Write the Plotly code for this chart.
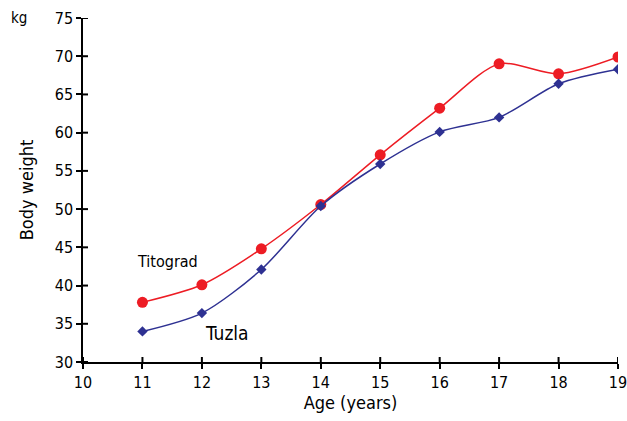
import plotly.graph_objects as go

ages = [11, 12, 13, 14, 15, 16, 17, 18, 19]
titograd = [37.8, 40.1, 44.8, 50.6, 57.1, 63.2, 69.0, 67.7, 69.9]
tuzla = [34.0, 36.4, 42.1, 50.4, 55.9, 60.1, 62.0, 66.4, 68.3]

x_ticks = list(range(10, 20))
y_ticks = list(range(30, 76, 5))

RED = "#ed1c24"
BLUE = "#2e3192"
FONT = "DejaVu Sans Condensed"

W, H = 627, 421
M = dict(l=83, r=9, t=18, b=59)
PLOT_W = W - M["l"] - M["r"]
PLOT_H = H - M["t"] - M["b"]
TICK = 5

fig = go.Figure()
fig.add_trace(go.Scatter(
    x=ages, y=titograd, mode="lines+markers", name="Titograd",
    line=dict(color=RED, width=1.5, shape="spline", smoothing=0.8),
    marker=dict(symbol="circle", size=11, color=RED),
))
fig.add_trace(go.Scatter(
    x=ages, y=tuzla, mode="lines+markers", name="Tuzla",
    line=dict(color=BLUE, width=1.5, shape="spline", smoothing=0.8),
    marker=dict(symbol="diamond", size=8, color=BLUE),
))

axis_common = dict(showgrid=False, zeroline=False, showline=True, linecolor="black",
                   linewidth=1.5, ticks="outside", tickcolor="black", tickwidth=1.5,
                   ticklen=TICK, automargin=False, ticklabeloverflow="allow")

fig.update_layout(
    width=W, height=H,
    margin=M,
    paper_bgcolor="white", plot_bgcolor="white",
    showlegend=False,
    font=dict(family=FONT, color="black", size=15),
    xaxis=dict(range=[10, 19], tickvals=x_ticks,
               title=dict(text="Age (years)", font=dict(size=18), standoff=5),
               tickfont=dict(size=16), **axis_common),
    yaxis=dict(range=[30, 75], tickvals=y_ticks,
               title=dict(text="Body weight", font=dict(size=18), standoff=16),
               tickfont=dict(size=16), **axis_common),
)

# tick marks continue across the axis line into the plot area
tick_line = dict(color="black", width=2)
shapes = []
for xv in x_ticks:
    shapes.append(dict(type="line", xref="x", yref="paper", x0=xv, x1=xv,
                       y0=0, y1=TICK / PLOT_H, line=tick_line, layer="above"))
for yv in y_ticks:
    shapes.append(dict(type="line", xref="paper", yref="y", y0=yv, y1=yv,
                       x0=0, x1=TICK / PLOT_W, line=tick_line, layer="above"))
fig.update_layout(shapes=shapes)

fig.add_annotation(x=11.42, y=43.2, text="Titograd", showarrow=False,
                   font=dict(size=16, family=FONT))
fig.add_annotation(x=12.42, y=33.8, text="Tuzla", showarrow=False,
                   font=dict(size=19, family=FONT))
fig.add_annotation(x=0, xref="paper", xshift=-74, xanchor="left",
                   y=75, yref="y", text="kg", showarrow=False,
                   font=dict(size=15, family=FONT))

fig.write_html("out.html")
